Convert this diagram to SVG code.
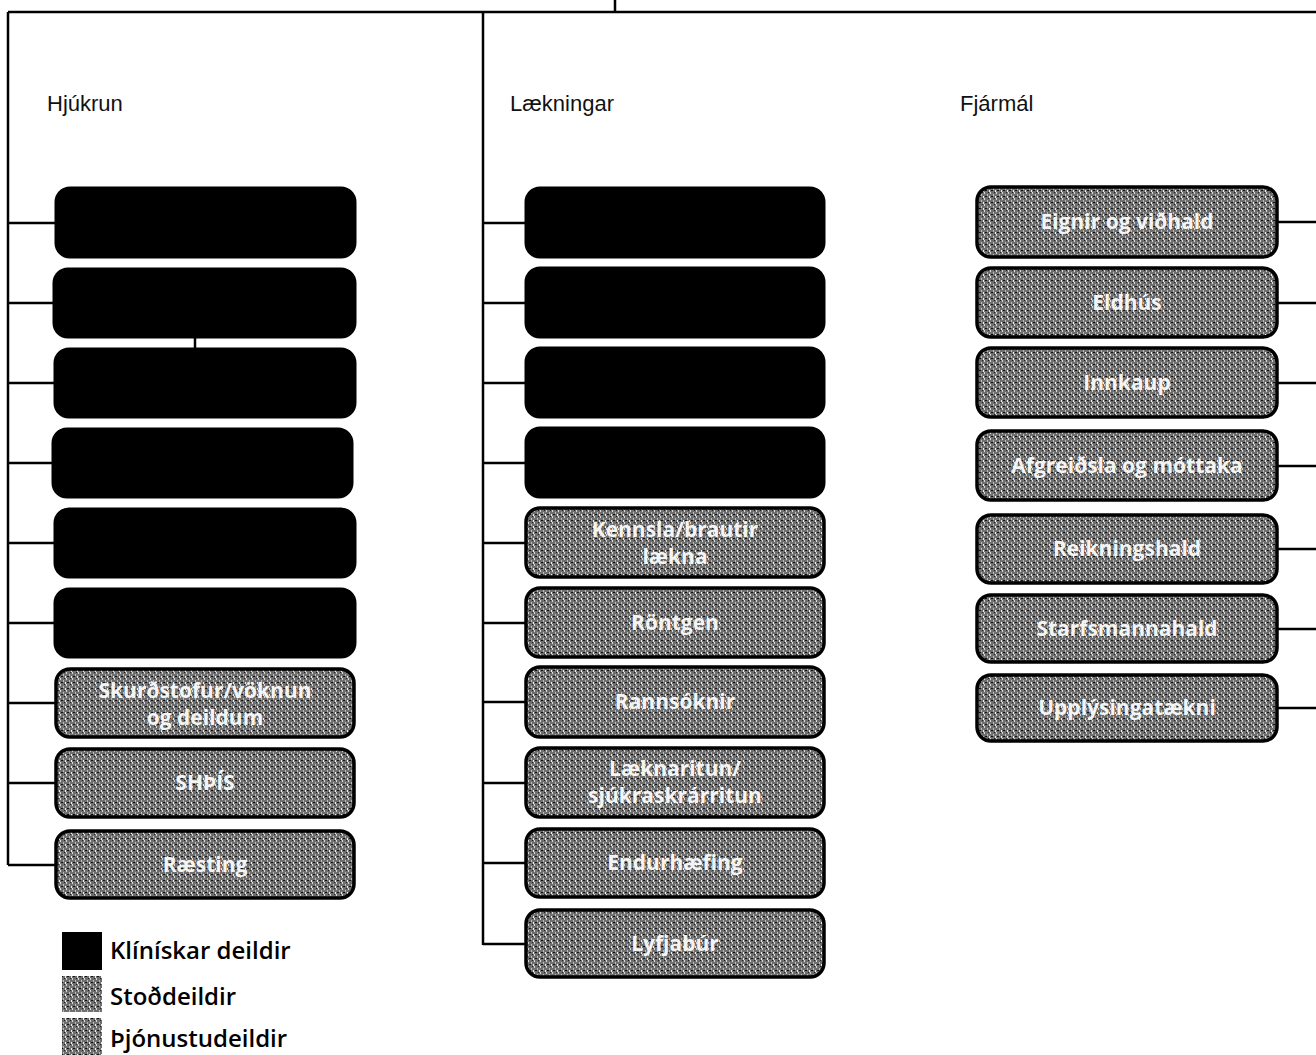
<svg xmlns="http://www.w3.org/2000/svg" width="1316" height="1055" viewBox="0 0 1316 1055">
<style>
.hd{font-family:"Liberation Sans",Arial,sans-serif;font-size:22px;fill:#111}
.blk{fill:#000;stroke:#000;stroke-width:3}
.gry{fill:url(#spk);stroke:#000;stroke-width:3.5}
.lbl{font-family:"Open Sans","DejaVu Sans",sans-serif;font-size:21px;font-weight:bold;fill:#f4f4f4;text-anchor:middle}
.ln{stroke:#000;stroke-width:2.5;fill:none}
.lg{font-family:"Open Sans","DejaVu Sans",sans-serif;font-size:24px;font-weight:600;fill:#000}
</style>
<defs>
<pattern id="spk" width="6" height="6" patternUnits="userSpaceOnUse">
<rect width="6" height="6" fill="#6f6f6f"/>
<rect x="0" y="0" width="1" height="2" fill="#d8d8d8"/>
<rect x="3" y="2" width="1" height="2" fill="#bbb"/>
<rect x="1" y="4" width="2" height="1" fill="#111"/>
<rect x="4" y="0" width="1" height="1" fill="#222"/>
<rect x="5" y="4" width="1" height="2" fill="#eee"/>
</pattern>
</defs>
<rect width="1316" height="1055" fill="#fff"/>
<g id="connectors">
<path class="ln" d="M8,12 H1316 M615,0 V12 M8,12 V865 M483,12 V945"/>
<path class="ln" d="M8,223 H56 M8,303 H56 M8,383 H56 M8,463 H53 M8,543 H56 M8,623 H56 M8,703 H56 M8,783 H56 M8,865 H56"/>
<path class="ln" d="M195,337 V349"/>
<path class="ln" d="M483,223 H526 M483,303 H526 M483,383 H526 M483,463 H526 M483,543 H526 M483,623 H526 M483,702 H526 M483,783 H526 M483,863 H526 M483,944 H526"/>
<path class="ln" d="M1277,222 H1316 M1277,303 H1316 M1277,383 H1316 M1277,466 H1316 M1277,549 H1316 M1277,629 H1316 M1277,708 H1316"/>
</g>
<g id="headings">
<text class="hd" x="47" y="111">Hjúkrun</text>
<text class="hd" x="510" y="111">Lækningar</text>
<text class="hd" x="960" y="111">Fjármál</text>
</g>
<g id="hjukrun">
<g id="h1"><rect class="blk" x="56" y="188" width="299" height="69" rx="14"/></g>
<g id="h2"><rect class="blk" x="54" y="269" width="301" height="68" rx="14"/></g>
<g id="h3"><rect class="blk" x="55" y="349" width="300" height="68" rx="14"/></g>
<g id="h4"><rect class="blk" x="53" y="429" width="299" height="68" rx="14"/></g>
<g id="h5"><rect class="blk" x="55" y="509" width="300" height="68" rx="14"/></g>
<g id="h6"><rect class="blk" x="55" y="589" width="300" height="68" rx="14"/></g>
<g id="h7"><rect class="gry" x="56" y="669" width="298" height="68" rx="14"/><text class="lbl" x="205" y="698">Skurðstofur/vöknun</text><text class="lbl" x="205" y="725">og deildum</text></g>
<g id="h8"><rect class="gry" x="56" y="749" width="298" height="68" rx="14"/><text class="lbl" x="205" y="790">SHÞÍS</text></g>
<g id="h9"><rect class="gry" x="56" y="831" width="298" height="67" rx="14"/><text class="lbl" x="205" y="872">Ræsting</text></g>
</g>
<g id="laekningar">
<g id="l1"><rect class="blk" x="526" y="188" width="298" height="69" rx="14"/></g>
<g id="l2"><rect class="blk" x="526" y="268" width="298" height="69" rx="14"/></g>
<g id="l3"><rect class="blk" x="526" y="348" width="298" height="69" rx="14"/></g>
<g id="l4"><rect class="blk" x="526" y="428" width="298" height="69" rx="14"/></g>
<g id="l5"><rect class="gry" x="526" y="508" width="298" height="69" rx="14"/><text class="lbl" x="675" y="537">Kennsla/brautir</text><text class="lbl" x="675" y="564">lækna</text></g>
<g id="l6"><rect class="gry" x="526" y="588" width="298" height="69" rx="14"/><text class="lbl" x="675" y="630">Röntgen</text></g>
<g id="l7"><rect class="gry" x="526" y="667" width="298" height="70" rx="14"/><text class="lbl" x="675" y="709">Rannsóknir</text></g>
<g id="l8"><rect class="gry" x="526" y="748" width="298" height="69" rx="14"/><text class="lbl" x="675" y="776">Læknaritun/</text><text class="lbl" x="675" y="803">sjúkraskrárritun</text></g>
<g id="l9"><rect class="gry" x="526" y="829" width="298" height="68" rx="14"/><text class="lbl" x="675" y="870">Endurhæfing</text></g>
<g id="l10"><rect class="gry" x="526" y="910" width="298" height="67" rx="14"/><text class="lbl" x="675" y="951">Lyfjabúr</text></g>
</g>
<g id="fjarmal">
<g id="f1"><rect class="gry" x="977" y="187" width="300" height="70" rx="14"/><text class="lbl" x="1127" y="229">Eignir og viðhald</text></g>
<g id="f2"><rect class="gry" x="977" y="268" width="300" height="69" rx="14"/><text class="lbl" x="1127" y="310">Eldhús</text></g>
<g id="f3"><rect class="gry" x="977" y="348" width="300" height="69" rx="14"/><text class="lbl" x="1127" y="390">Innkaup</text></g>
<g id="f4"><rect class="gry" x="977" y="431" width="300" height="69" rx="14"/><text class="lbl" x="1127" y="473">Afgreiðsla og móttaka</text></g>
<g id="f5"><rect class="gry" x="977" y="515" width="300" height="68" rx="14"/><text class="lbl" x="1127" y="556">Reikningshald</text></g>
<g id="f6"><rect class="gry" x="977" y="595" width="300" height="67" rx="14"/><text class="lbl" x="1127" y="636">Starfsmannahald</text></g>
<g id="f7"><rect class="gry" x="977" y="675" width="300" height="66" rx="14"/><text class="lbl" x="1127" y="715">Upplýsingatækni</text></g>
</g>
<g id="legend">
<rect x="62" y="932" width="40" height="38" fill="#000"/>
<text class="lg" x="110" y="959">Klínískar deildir</text>
<rect x="62" y="976" width="40" height="36" fill="url(#spk)"/>
<text class="lg" x="110" y="1005">Stoðdeildir</text>
<rect x="62" y="1018" width="40" height="37" fill="url(#spk)"/>
<text class="lg" x="110" y="1047">Þjónustudeildir</text>
</g>
</svg>
